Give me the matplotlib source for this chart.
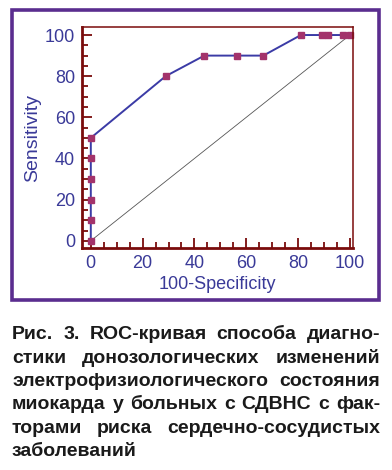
import matplotlib
matplotlib.use("Agg")
import matplotlib.pyplot as plt
from matplotlib.patches import Rectangle
from matplotlib.ticker import MultipleLocator

plt.rcParams['font.family'] = ['Liberation Sans', 'DejaVu Sans']

# ROC points (100-Specificity, Sensitivity)
fpr = [0, 0, 0, 0, 0, 0, 28.9, 43.8, 56.3, 66.6, 81.1, 89.2, 91.5, 97.5, 100]
tpr = [0, 10, 20, 30, 40, 50, 80, 90, 90, 90, 100, 100, 100, 100, 100]
diag = [0, 100]
ticks = [0, 20, 40, 60, 80, 100]

caption = [
    "Рис. 3. ROC-кривая способа диагно-",
    "стики донозологических изменений",
    "электрофизиологического состояния",
    "миокарда у больных с СДВНС с фак-",
    "торами риска сердечно-сосудистых",
    "заболеваний",
]

W, H = 392, 470
fig = plt.figure(figsize=(W / 100, H / 100), dpi=100)

# purple frame around the chart
fig.patches.append(Rectangle((11.5 / W, 1 - 300 / H), 367.5 / W, 290 / H,
                             transform=fig.transFigure, fill=False,
                             edgecolor='#5a2d8f', linewidth=2.6))

ax = fig.add_axes([82 / W, 1 - 248 / H, 271 / W, 221 / H])
ax.plot(diag, diag, color='#555555', linewidth=0.6)
ax.plot(fpr, tpr, color='#3b3ba6', linewidth=1.4, marker='s', markersize=4.8,
        markerfacecolor='#a3336b', markeredgecolor='#a3336b', clip_on=False)
ax.set_xlim(-3.4, 101.2)
ax.set_ylim(-3.5, 103.9)
ax.set_xticks(ticks)
ax.set_yticks(ticks)
ax.xaxis.set_minor_locator(MultipleLocator(5))
ax.yaxis.set_minor_locator(MultipleLocator(5))

red = '#7a0c0c'
for side in ['left', 'bottom']:
    ax.spines[side].set_linewidth(2.0)
    ax.spines[side].set_color(red)
for side in ['top', 'right']:
    ax.spines[side].set_linewidth(1.1)
    ax.spines[side].set_color(red)
ax.tick_params(which='both', direction='in', color=red, width=1.3,
               top=False, right=False)
ax.tick_params(which='major', length=7, labelsize=13, labelcolor='#3a3a98', pad=5)
ax.tick_params(which='minor', length=4)
ax.set_xlabel('100-Specificity', fontsize=13, color='#3a3a98', labelpad=3)
ax.set_ylabel('Sensitivity', fontsize=14, color='#3a3a98', labelpad=3)

# justified caption
x0, x1 = 12 / W, 380 / W
baselines = [339, 363, 386, 409, 433, 456]
renderer = fig.canvas.get_renderer()
for i, line in enumerate(caption):
    y = 1 - baselines[i] / H
    words = line.split(' ')
    objs = [fig.text(0, y, w, fontsize=14, fontweight='bold', color='#1a1a1a',
                     va='baseline', ha='left') for w in words]
    widths = [o.get_window_extent(renderer).width / W for o in objs]
    if i == len(caption) - 1:
        gap = 0.012
    else:
        gap = (x1 - x0 - sum(widths)) / (len(words) - 1)
    x = x0
    for o, w in zip(objs, widths):
        o.set_x(x)
        x += w + gap

fig.savefig('out.png', dpi=100)
